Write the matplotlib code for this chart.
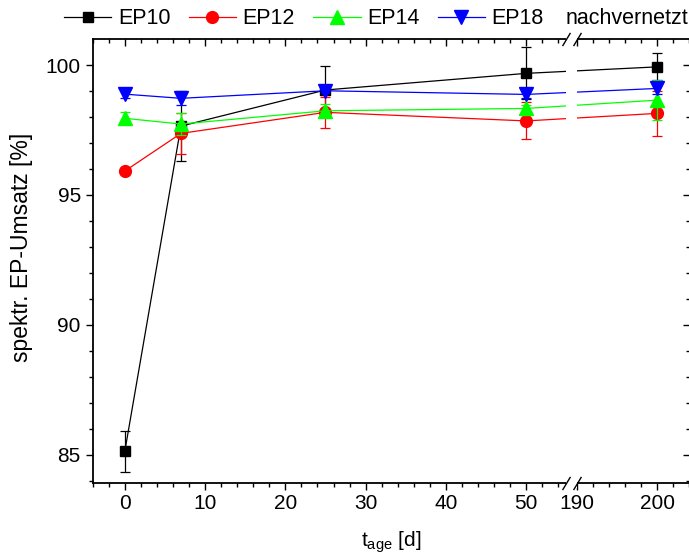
import numpy as np
import matplotlib
matplotlib.use('Agg')
import matplotlib.pyplot as plt

plt.rcParams['font.family'] = ['Liberation Sans', 'DejaVu Sans']
plt.rcParams['font.size'] = 15
plt.rcParams['mathtext.default'] = 'regular'

# Dados
days = [0, 7, 25, 50, 200]

ep10 = [85.13, 97.65, 99.04, 99.68, 99.93]
ep10_err = [0.78, 1.34, 0.93, 1.0, 0.52]

ep12 = [95.92, 97.37, 98.18, 97.85, 98.14]
ep12_err = [0.1, 0.79, 0.59, 0.71, 0.87]

ep14 = [97.95, 97.73, 98.24, 98.33, 98.65]
ep14_err = [0.23, 0.42, 0.25, 0.15, 0.78]

ep18 = [98.88, 98.72, 99.01, 98.87, 99.10]
ep18_err = [0.15, 0.25, 0.1, 0.12, 0.2]

labels = ['EP10', 'EP12', 'EP14', 'EP18']

# eixo x quebrado entre ~55 e ~189
OFFSET = 133.7
CUT = 55.0


def forward(x):
    x = np.asarray(x, dtype=float)
    return np.where(x < 120, x, x - OFFSET)


def inverse(t):
    t = np.asarray(t, dtype=float)
    return np.where(t <= CUT, t, t + OFFSET)


fig = plt.figure(figsize=(6.89, 5.58), dpi=100)
rect = [0.1345, 0.135, 0.8669, 0.795]
ax = fig.add_axes(rect)
ax_o = fig.add_axes(rect, sharex=ax, sharey=ax, frameon=False)
ax.set_xscale('function', functions=(forward, inverse))

series = [
    (ep10, ep10_err, 'black', 's', 7.5),
    (ep12, ep12_err, '#ff0000', 'o', 8.5),
    (ep14, ep14_err, '#00ff00', '^', 9.5),
    (ep18, ep18_err, '#0000ff', 'v', 9.5),
]
handles = []
for (vals, err, c, m, ms), lab in zip(series, labels):
    ax.errorbar(days, vals, yerr=err, fmt='none', ecolor=c, elinewidth=0.9,
                capsize=3.5, capthick=0.9)
    h, = ax.plot(days, vals, color=c, marker=m, ms=ms, lw=0.9, label=lab)
    handles.append(h)

# ticks
ax.set_xticks([0, 10, 20, 30, 40, 50, 190, 200])
minor_x = [v for v in range(-4, 55, 2) if v % 10 != 0] + [192, 194, 196, 198, 202, 204]
ax.set_xticks(minor_x, minor=True)
ax.set_yticks([85, 90, 95, 100])
ax.set_yticks(np.arange(84, 101, 1), minor=True)
ax.set_xlim(-4, 204.1)
ax.set_ylim(83.93, 101.0)

ax.tick_params(which='both', direction='out', top=False, right=False, width=1)
ax.tick_params(which='major', length=5)
ax.tick_params(which='minor', length=3)
ax_o.tick_params(which='both', direction='in', bottom=False, left=False,
                 top=True, right=True, labelbottom=False, labelleft=False,
                 labeltop=False, labelright=False, width=1)
ax_o.tick_params(which='major', length=5)
ax_o.tick_params(which='minor', length=3)
ax_o.patch.set_visible(False)
for sp in ax.spines.values():
    sp.set_linewidth(1.3)

# marca de quebra
ax.axvspan(54.9, 190.05, ymin=-0.012, ymax=1.012, color='white', zorder=3,
           clip_on=False, lw=0)
trans = ax.get_xaxis_transform()
for xb in (54.9, 190.05):
    for yb in (0, 1):
        ax.plot([xb], [yb], marker=[(-0.6, -1), (0.6, 1)], ms=9.5, mec='black',
                mew=1, ls='none', transform=trans, clip_on=False, zorder=4)

ax.set_ylabel('spektr. EP-Umsatz [%]', fontsize=16.5)
ax.yaxis.set_label_coords(-0.1, 0.53)
ax.set_xlabel('t$_{age}$ [d]')
ax.xaxis.set_label_coords(0.5, -0.105)

fig.legend(handles, labels, loc='center left', bbox_to_anchor=(0.093, 0.966),
           ncol=4, frameon=False, handlelength=2.2, handletextpad=0.3,
           columnspacing=0.85, borderpad=0, borderaxespad=0, fontsize=15.5)
fig.text(566 / 689, 0.966, 'nachvernetzt', va='center', ha='left', fontsize=15.5)

fig.savefig('out.png', dpi=100)
